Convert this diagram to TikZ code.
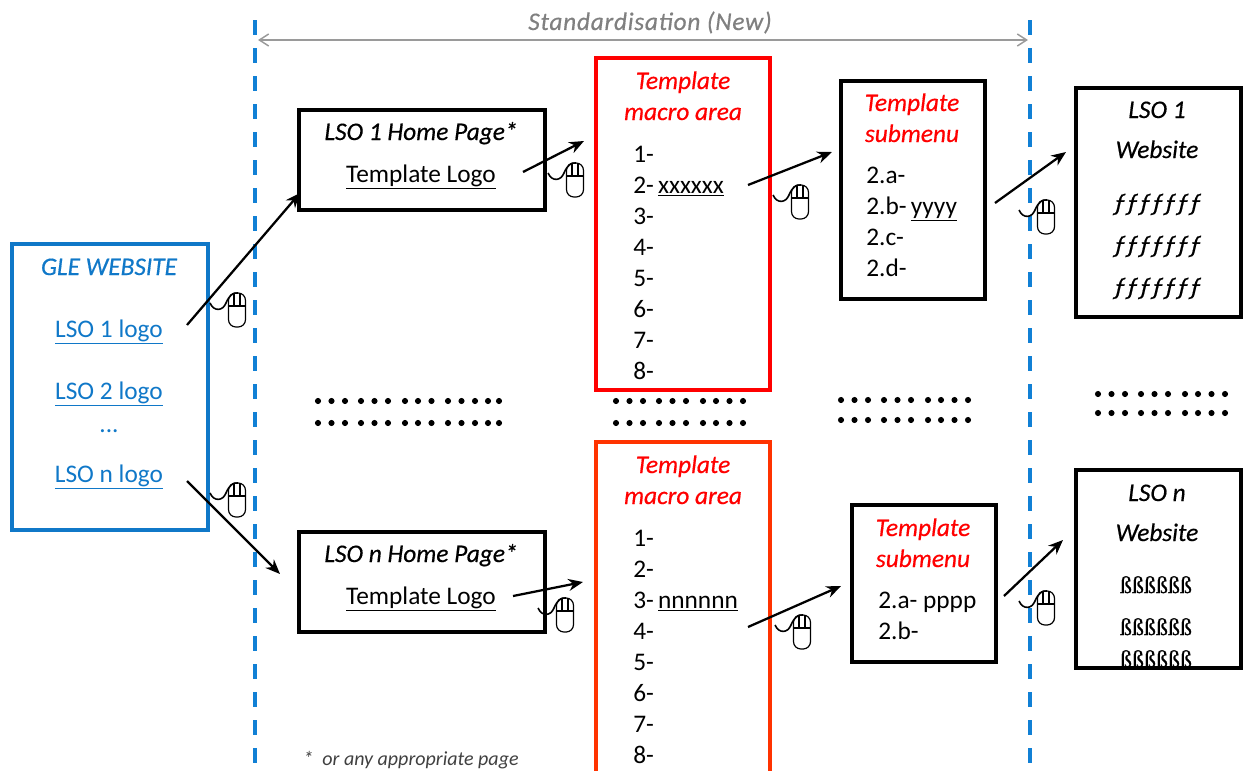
\documentclass[tikz,border=0pt]{standalone}
\usepackage{fontspec}
\setmainfont{Carlito}
\newfontfamily\sharpfont[FakeBold=0.6]{Liberation Serif}
\usetikzlibrary{
   arrows.meta,
   positioning
}
\definecolor{gleblue}{HTML}{1078C8}
\definecolor{dashblue}{HTML}{1180D5}
\definecolor{macroorange}{HTML}{FF3300}
\definecolor{stdgray}{HTML}{808080}

\begin{document}
\begin{tikzpicture}[
    x=0.75pt, y=-0.75pt,
    box/.style={rectangle, draw, line width=2.6pt, inner sep=0pt},
    bodytxt/.style={font=\fontsize{19pt}{23.25pt}\selectfont, inner sep=0pt, anchor=base},
    listtxt/.style={bodytxt, align=left, anchor=base west},
    titletxt/.style={bodytxt, font=\fontsize{19pt}{23.25pt}\selectfont\itshape\addfontfeature{FakeBold=0.5}, align=center},
    redtitle/.style={titletxt, text=red},
    linktxt/.style={bodytxt, text=gleblue},
    sharptxt/.style={bodytxt, font=\fontsize{18pt}{20pt}\selectfont\sharpfont},
    arrow/.style={-{Stealth[length=11pt, width=9pt]}, line width=1.7pt},
    sideline/.style={dashblue, line width=2.6pt, dash pattern=on 11pt off 10pt},
    dotmark/.style={fill=black},
    mouseicon/.pic={
        \draw[line width=0.9pt, rounded corners=5.5pt] (-8.5,-17) rectangle (8.5,17);
        \draw[line width=0.8pt] (-8.5,-4) -- (8.5,-4) (-3,-17) -- (-3,-4) (3,-17) -- (3,-4);
        \draw[line width=1.2pt] (-27,-7) .. controls (-23,2) and (-14,1) .. (-11,-7) .. controls (-8,-14) and (-4,-18) .. (1,-17);
    }
]

\useasboundingbox (0,0) rectangle (1243,771);
\clip (0,0) rectangle (1243,771);

% standardisation band
\coordinate (bandTL) at (255,20);
\coordinate (bandBL) at (255,771);
\coordinate (bandTR) at (1030,20);
\coordinate (bandBR) at (1030,771);
\coordinate (spanL) at (258,40);
\coordinate (spanR) at (1028,40);
\draw[sideline] (bandTL) -- (bandBL);
\draw[sideline] (bandTR) -- (bandBR);
\draw[{Straight Barb[length=7pt, width=9pt]}-{Straight Barb[length=7pt, width=9pt]}, stdgray!80, line width=1.1pt] (spanL) -- (spanR);
\node[titletxt, text=stdgray, font=\fontsize{19pt}{20pt}\selectfont\itshape\addfontfeature{LetterSpace=3,FakeBold=0.5}] (stdlabel) at (650,30) {Standardisation (New)};

% boxes
\node[box, gleblue, minimum width=147pt, minimum height=214.5pt] (gle) at (110,387) {};
\node[box, minimum width=184.5pt, minimum height=75pt] (home1) at (422,160) {};
\node[box, red, minimum width=130.5pt, minimum height=249pt] (macro1) at (683,224) {};
\node[box, minimum width=108pt, minimum height=163.5pt] (sub1) at (913,190) {};
\node[box, minimum width=123.75pt, minimum height=171.75pt] (web1) at (1158.5,202.5) {};
\node[box, minimum width=184.5pt, minimum height=75pt] (homen) at (422,582) {};
\node[box, macroorange, minimum width=130.5pt, minimum height=268.5pt] (macron) at (683,621) {};
\node[box, minimum width=108pt, minimum height=117.75pt] (subn) at (924,583.5) {};
\node[box, minimum width=123.75pt, minimum height=148.5pt] (webn) at (1158.5,569) {};

% GLE website
\node[titletxt, text=gleblue] (gletitle) at (109,275) {GLE WEBSITE};
\node[linktxt] (logo1) at (109,337) {\underline{LSO 1 logo}};
\node[linktxt] (logo2) at (109,399) {\underline{LSO 2 logo}};
\node[linktxt] (logodots) at (109,432) {...};
\node[linktxt] (logon) at (109,482) {\underline{LSO n logo}};

% first row
\node[titletxt] (home1title) at (421,140) {LSO 1 Home Page*};
\node[bodytxt] (home1logo) at (421,182) {\underline{Template Logo}};
\node[redtitle] (macro1title) at (683,120) {Template\\macro area};
\node[listtxt] (macro1list) at (633,379) {1-\\2-\,\underline{xxxxxx}\\3-\\4-\\5-\\6-\\7-\\8-};
\node[redtitle] (sub1title) at (912,142) {Template\\submenu};
\node[listtxt] (sub1list) at (866,276.5) {2.a-\\2.b-\,\underline{yyyy}\\2.c-\\2.d-};
\node[titletxt, font=\fontsize{19pt}{30pt}\selectfont\itshape\addfontfeature{FakeBold=0.5}] (web1title) at (1157,158) {LSO 1\\Website};
\node[titletxt] (web1a) at (1157,211) {ƒƒƒƒƒƒƒ};
\node[titletxt] (web1b) at (1157,253) {ƒƒƒƒƒƒƒ};
\node[titletxt] (web1c) at (1157,295) {ƒƒƒƒƒƒƒ};

% last row
\node[titletxt] (homentitle) at (421,562) {LSO n Home Page*};
\node[bodytxt] (homenlogo) at (421,604) {\underline{Template Logo}};
\node[redtitle] (macrontitle) at (683,504) {Template\\macro area};
\node[listtxt] (macronlist) at (633,763) {1-\\2-\\3-\,\underline{nnnnnn}\\4-\\5-\\6-\\7-\\8-};
\node[redtitle] (subntitle) at (923,567) {Template\\submenu};
\node[listtxt] (subnlist) at (878,639) {2.a- pppp\\2.b-};
\node[titletxt, font=\fontsize{19pt}{30pt}\selectfont\itshape\addfontfeature{FakeBold=0.5}] (webntitle) at (1157,541) {LSO n\\Website};
\node[sharptxt] (webna) at (1156,593) {ßßßßßß};
\node[sharptxt] (webnb) at (1156,635) {ßßßßßß};
\node[sharptxt] (webnc) at (1156,667) {ßßßßßß};

\node[titletxt, text=black!75, font=\fontsize{15pt}{18pt}\selectfont\itshape] (footnote) at (411,765) {*\ \ or any appropriate page};

% dots between the rows
\foreach \rowy in {401,423}
    \foreach \dotx in {0,13.5,27,43,56.5,70,87,100,113.5,130,143.5,157,170,181}
        \fill[dotmark] (318+\dotx,\rowy) circle (2.3pt);
\foreach \rowx/\rowy in {616/401,616/423,841/400,841/420,1098/394,1098/413}
    \foreach \dotx in {0,13.5,27,43,56.5,70,87,100,113.5,127}
        \fill[dotmark] (\rowx+\dotx,\rowy) circle (2.3pt);

% links
\coordinate (a1from) at (187,325);
\coordinate (a1to) at (300,193);
\coordinate (b1from) at (523,172);
\coordinate (b1to) at (584,141);
\coordinate (c1from) at (748,185);
\coordinate (c1to) at (832,152);
\coordinate (d1from) at (995,203);
\coordinate (d1to) at (1066,152);
\coordinate (anfrom) at (187,481);
\coordinate (anto) at (280,574);
\coordinate (bnfrom) at (513,596);
\coordinate (bnto) at (583,582);
\coordinate (cnfrom) at (748,627);
\coordinate (cnto) at (841,586);
\coordinate (dnfrom) at (1004,596);
\coordinate (dnto) at (1063,540);
\draw[arrow] (a1from) -- (a1to);
\draw[arrow] (b1from) -- (b1to);
\draw[arrow] (c1from) -- (c1to);
\draw[arrow] (d1from) -- (d1to);
\draw[arrow] (anfrom) -- (anto);
\draw[arrow] (bnfrom) -- (bnto);
\draw[arrow] (cnfrom) -- (cnto);
\draw[arrow] (dnfrom) -- (dnto);

% mouse icons
\pic at (237,310) {mouseicon};
\pic at (575,180) {mouseicon};
\pic at (800,202) {mouseicon};
\pic at (1046,217) {mouseicon};
\pic at (237,500) {mouseicon};
\pic at (565,615) {mouseicon};
\pic at (802,632) {mouseicon};
\pic at (1046,608) {mouseicon};

\end{tikzpicture}
\end{document}
